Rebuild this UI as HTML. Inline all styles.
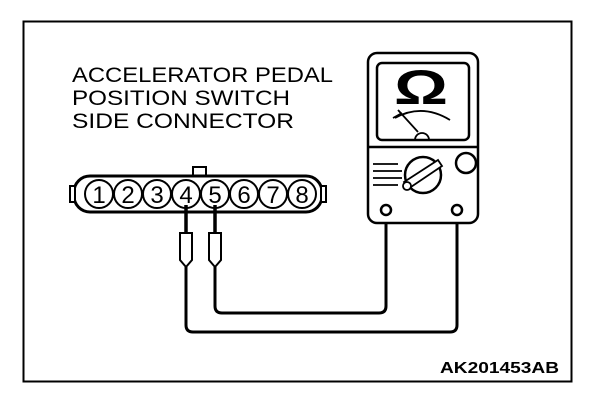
<!DOCTYPE html>
<html><head><style>body{margin:0;background:#fff}svg{display:block}</style></head><body>
<svg width="608" height="400" viewBox="0 0 608 400" xmlns="http://www.w3.org/2000/svg" font-family="Liberation Sans, sans-serif">
<rect x="23.5" y="21.5" width="548" height="360" fill="none" stroke="#000" stroke-width="2"/>
<g font-size="21" fill="#000">
<text x="72" y="82" textLength="261" lengthAdjust="spacingAndGlyphs">ACCELERATOR PEDAL</text>
<text x="72" y="105" textLength="218" lengthAdjust="spacingAndGlyphs">POSITION SWITCH</text>
<text x="72" y="128" textLength="222" lengthAdjust="spacingAndGlyphs">SIDE CONNECTOR</text>
</g>
<text x="440" y="373" font-size="16" font-weight="bold" textLength="119" lengthAdjust="spacingAndGlyphs">AK201453AB</text>
<!-- connector -->
<rect x="193" y="167" width="13" height="10" fill="#fff" stroke="#000" stroke-width="2"/>
<rect x="74" y="176" width="248" height="36" rx="16" fill="#fff" stroke="#000" stroke-width="3"/>
<rect x="70" y="186" width="5" height="16" fill="#fff" stroke="#000" stroke-width="2"/>
<rect x="321" y="186" width="5" height="16" fill="#fff" stroke="#000" stroke-width="2"/>
<g fill="#fff" stroke="#000" stroke-width="2">
<circle cx="99" cy="194" r="14"/><circle cx="128" cy="194" r="14"/><circle cx="157" cy="194" r="14"/><circle cx="186" cy="194" r="14"/><circle cx="215" cy="194" r="14"/><circle cx="244" cy="194" r="14"/><circle cx="273" cy="194" r="14"/><circle cx="302" cy="194" r="14"/>
</g>
<g font-size="24" text-anchor="middle" fill="#000">
<text x="99" y="203">1</text><text x="128" y="203">2</text><text x="157" y="203">3</text><text x="186" y="203">4</text><text x="215" y="203">5</text><text x="244" y="203">6</text><text x="273" y="203">7</text><text x="302" y="203">8</text>
</g>
<!-- probes -->
<g stroke="#000" fill="none">
<line x1="186" y1="205" x2="186" y2="233" stroke-width="3.5"/>
<line x1="215" y1="205" x2="215" y2="233" stroke-width="3.5"/>
<path d="M180 233 H192 V260 L186 267 L180 260 Z" fill="#fff" stroke-width="2"/>
<path d="M209 233 H221 V260 L215 267 L209 260 Z" fill="#fff" stroke-width="2"/>
<path d="M215 267 V306 Q215 313 222 313 H379 Q386 313 386 306 V215" stroke-width="3"/>
<path d="M186 267 V325 Q186 332 193 332 H450 Q457 332 457 325 V215" stroke-width="3"/>
</g>
<!-- meter -->
<g stroke="#000" fill="none" stroke-width="2.5">
<rect x="368" y="53" width="110" height="170" rx="9" fill="#fff"/>
<rect x="377" y="63" width="92" height="77" rx="5"/>
<line x1="368" y1="147" x2="478" y2="147"/>
<path d="M395 118 Q422 103 450 120" stroke-width="1.8"/>
<line x1="398" y1="110" x2="418" y2="132" stroke-width="1.8"/>
<line x1="393" y1="118" x2="402" y2="113" stroke-width="1.8"/>
<path d="M415 140 A7 7 0 0 1 429 140" stroke-width="1.8"/>
<circle cx="423" cy="175" r="18" fill="#fff"/>
<path d="M404 182 L438 160 L442 166 L408 189 Z" fill="#fff" stroke-width="1.8"/>
<circle cx="407" cy="186" r="4" fill="#fff" stroke-width="1.8"/>
<path d="M373 164 H398 M373 171 H402 M373 178 H402 M373 185 H398" stroke-width="1.8"/>
<circle cx="466" cy="163" r="10"/>
<circle cx="386" cy="210" r="5" fill="#fff"/>
<circle cx="457" cy="210" r="5" fill="#fff"/>
</g>
<text x="421" y="104" font-size="48" font-weight="bold" text-anchor="middle" textLength="54" lengthAdjust="spacingAndGlyphs">Ω</text>
</svg>
</body></html>
